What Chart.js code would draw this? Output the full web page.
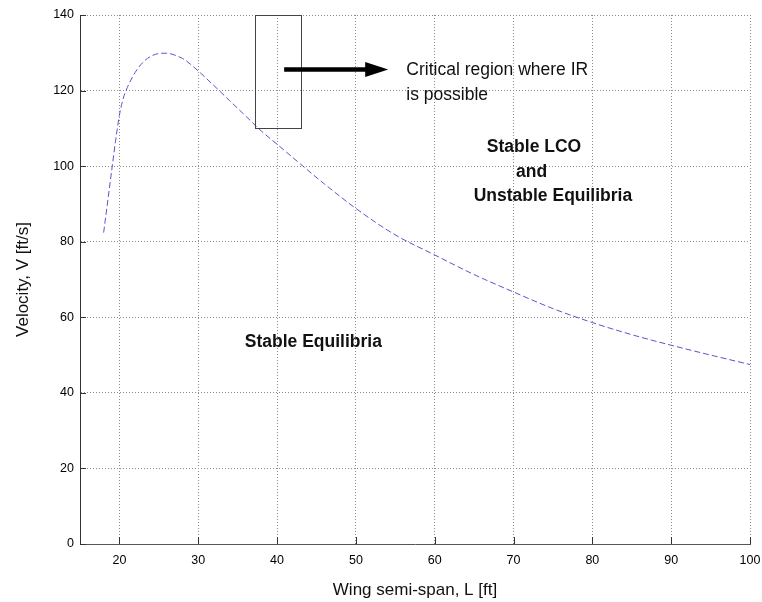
<!DOCTYPE html>
<html>
<head>
<meta charset="utf-8">
<script src="https://cdn.jsdelivr.net/npm/chart.js@4"></script>
<style>
  body { margin: 0; background: #fff; }
  canvas { display: block; }
</style>
</head>
<body>
<canvas id="myChart" width="762" height="602"></canvas>
<script>
// wing semi-span L [ft] and velocity V [ft/s] along the boundary curve
const span = [18, 18.5, 19, 19.5, 20, 20.5, 21, 22, 23, 24, 25, 26, 27, 28, 29, 30,
  32, 34, 36, 38, 40, 43, 46, 50, 55, 60, 65, 70, 75, 80, 85, 90, 95, 100];
const velocity = [82.4, 90.5, 98.5, 106.5, 113.5, 118, 120.8, 124.8, 127.5, 129.1, 129.8, 129.9, 129.4, 128.5, 127, 125.2,
  121.3, 117.3, 113.3, 109.3, 105.8, 100.5, 95.3, 88.8, 81.8, 76.5, 71.3, 66.7, 62.3, 58.6, 55.4, 52.6, 50, 47.5];

const xTicks = [20, 30, 40, 50, 60, 70, 80, 90, 100];
const yTicks = [0, 20, 40, 60, 80, 100, 120, 140];

// critical region box and arrow, in data units
const regionBox = { x1: 37.25, x2: 43, y1: 110, y2: 140 };
const arrow = { x1: 40.9, x2: 54.1, y: 125.6 };

const FONT = '"Liberation Sans", Arial, Helvetica, sans-serif';

const notes = [
  { text: 'Critical region where IR', x: 56.4, y: 125.4, align: 'left', bold: false },
  { text: 'is possible', x: 56.4, y: 118.8, align: 'left', bold: false },
  { text: 'Stable LCO', x: 72.6, y: 105.1, align: 'center', bold: true },
  { text: 'and', x: 72.3, y: 98.4, align: 'center', bold: true },
  { text: 'Unstable Equilibria', x: 75.0, y: 92.1, align: 'center', bold: true },
  { text: 'Stable Equilibria', x: 44.6, y: 53.5, align: 'center', bold: true }
];

const points = span.map((L, i) => ({ x: L, y: velocity[i] }));

// inward tick marks, matlab style
const innerTicks = {
  id: 'innerTicks',
  afterDraw(chart) {
    const { ctx, chartArea } = chart;
    const xs = chart.scales.x, ys = chart.scales.y;
    ctx.save();
    ctx.strokeStyle = '#333';
    ctx.lineWidth = 1;
    ctx.beginPath();
    xTicks.forEach(v => {
      const px = Math.round(xs.getPixelForValue(v)) + 0.5;
      ctx.moveTo(px, chartArea.bottom);
      ctx.lineTo(px, chartArea.bottom - 7);
    });
    yTicks.forEach(v => {
      const py = Math.round(ys.getPixelForValue(v)) + 0.5;
      ctx.moveTo(chartArea.left, py);
      ctx.lineTo(chartArea.left + 6, py);
    });
    ctx.stroke();
    ctx.restore();
  }
};

// box, arrow and region labels
const notesPlugin = {
  id: 'notes',
  afterDatasetsDraw(chart) {
    const { ctx } = chart;
    const xs = chart.scales.x, ys = chart.scales.y;
    ctx.save();

    const bx1 = Math.round(xs.getPixelForValue(regionBox.x1)) + 0.5;
    const bx2 = Math.round(xs.getPixelForValue(regionBox.x2)) + 0.5;
    const by1 = Math.round(ys.getPixelForValue(regionBox.y1)) + 0.5;
    const by2 = Math.round(ys.getPixelForValue(regionBox.y2)) + 0.5;
    ctx.strokeStyle = '#444';
    ctx.lineWidth = 1;
    ctx.strokeRect(bx1, by2, bx2 - bx1, by1 - by2);

    const ax1 = xs.getPixelForValue(arrow.x1);
    const ax2 = xs.getPixelForValue(arrow.x2);
    const ay = ys.getPixelForValue(arrow.y);
    ctx.strokeStyle = '#000';
    ctx.lineWidth = 4.5;
    ctx.beginPath();
    ctx.moveTo(ax1, ay);
    ctx.lineTo(ax2 - 20, ay);
    ctx.stroke();
    ctx.fillStyle = '#000';
    ctx.beginPath();
    ctx.moveTo(ax2, ay);
    ctx.lineTo(ax2 - 23, ay - 7.5);
    ctx.lineTo(ax2 - 23, ay + 7.5);
    ctx.closePath();
    ctx.fill();

    ctx.fillStyle = '#111';
    ctx.textBaseline = 'middle';
    notes.forEach(n => {
      ctx.font = (n.bold ? 'bold ' : '') + '17.5px ' + FONT;
      ctx.textAlign = n.align;
      ctx.fillText(n.text, xs.getPixelForValue(n.x), ys.getPixelForValue(n.y));
    });
    ctx.restore();
  }
};

new Chart(document.getElementById('myChart'), {
  type: 'line',
  data: {
    datasets: [{
      data: points,
      borderColor: '#5656cc',
      borderWidth: 1,
      borderDash: [6, 3],
      pointRadius: 0,
      cubicInterpolationMode: 'monotone',
      fill: false
    }]
  },
  plugins: [innerTicks, notesPlugin],
  options: {
    responsive: false,
    animation: false,
    layout: { padding: { left: 0, right: 12, top: 15, bottom: 0 } },
    plugins: {
      legend: { display: false },
      tooltip: { enabled: false }
    },
    scales: {
      x: {
        type: 'linear',
        min: 15,
        max: 100,
        afterBuildTicks: s => { s.ticks = xTicks.map(v => ({ value: v })); },
        afterFit: s => { s.height = 58; s.paddingLeft = 0; s.paddingRight = 0; },
        grid: { color: '#8a8a8a', lineWidth: 1, drawTicks: false },
        border: { color: '#555', width: 1, dash: [1, 2] },
        ticks: { color: '#000', padding: 9, maxRotation: 0, font: { family: FONT, size: 12.5 } },
        title: {
          display: true,
          text: 'Wing semi-span, L [ft]',
          color: '#111',
          font: { family: FONT, size: 17 },
          padding: { top: 0, bottom: 1 }
        }
      },
      y: {
        min: 0,
        max: 140,
        afterBuildTicks: s => { s.ticks = yTicks.map(v => ({ value: v })); },
        afterFit: s => { s.width = 80; s.paddingTop = 0; s.paddingBottom = 0; },
        grid: { color: '#8a8a8a', lineWidth: 1, drawTicks: false },
        border: { color: '#333', width: 1, dash: [1, 2] },
        ticks: { color: '#000', padding: 6, font: { family: FONT, size: 12.5 } },
        title: {
          display: true,
          text: 'Velocity, V [ft/s]',
          color: '#111',
          font: { family: FONT, size: 17 },
          padding: { top: 13, bottom: 0 }
        }
      }
    }
  }
});
</script>
</body>
</html>
